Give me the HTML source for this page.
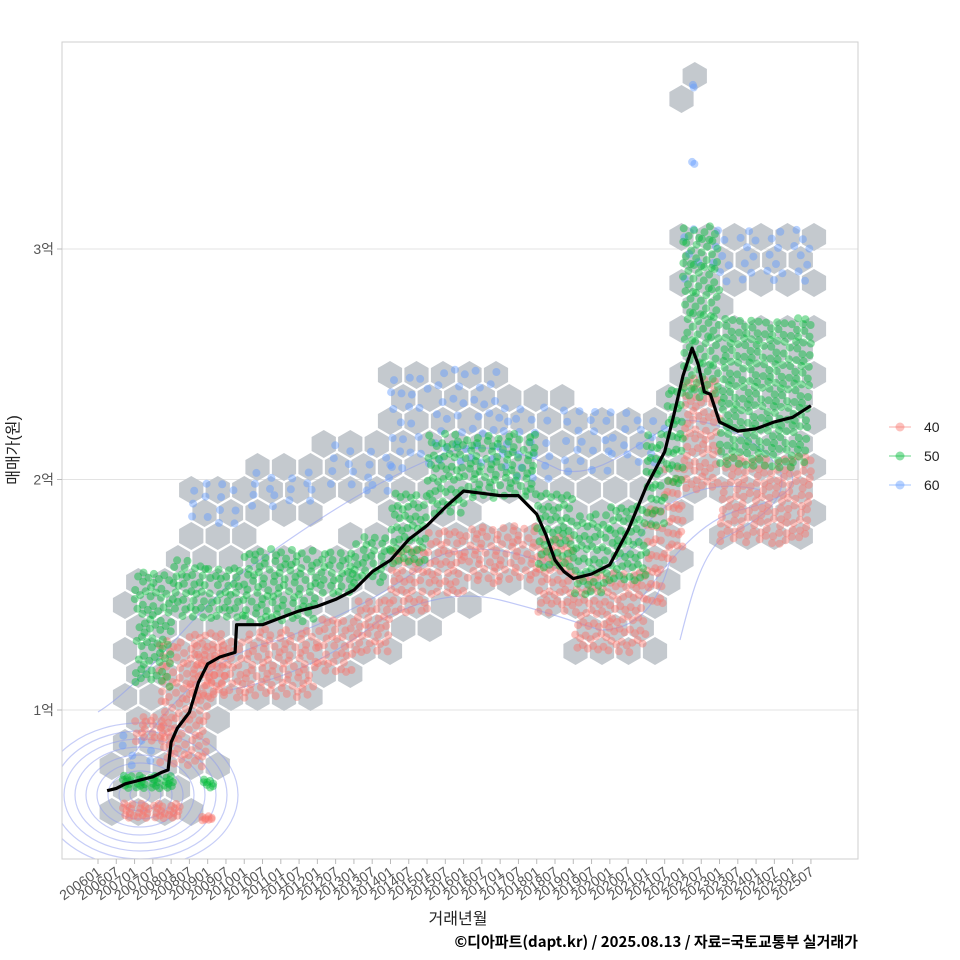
<!DOCTYPE html>
<html><head><meta charset="utf-8">
<style>
body{margin:0;background:#fff;}
svg{display:block;font-family:"Liberation Sans","Noto Sans CJK KR",sans-serif;}
</style></head>
<body>
<svg id="chart" width="960" height="960">
<defs><clipPath id="plotclip"><rect x="62" y="42" width="796" height="817"/></clipPath></defs>
<rect x="0" y="0" width="960" height="960" fill="#fff"/>
<g id="grid"></g>
<g id="hexes"></g>
<g id="contours" clip-path="url(#plotclip)"></g>
<g id="points"></g>
<g id="trend"></g>
<rect x="62" y="42" width="796" height="817" fill="none" stroke="#cfcfcf" stroke-width="1"/>
<g id="axes"></g>
<text x="14" y="450" transform="rotate(-90 14 450)" text-anchor="middle" dominant-baseline="central" font-size="16" fill="#222">매매가(원)</text>
<text x="458" y="924" text-anchor="middle" font-size="16" fill="#222">거래년월</text>
<text x="858" y="947" text-anchor="end" font-size="15" font-weight="bold" fill="#000" style="font-family:'Noto Sans CJK KR',sans-serif">©디아파트(dapt.kr) / 2025.08.13 / 자료=국토교통부 실거래가</text>
<g id="legend"></g>
</svg>
<script>
// ---- data ----
const yTicks = [1, 2, 3];
const yTickLabels = ["1억", "2억", "3억"];
const xTickLabels = [];
for (let y = 2006; y <= 2025; y++) { xTickLabels.push(y + "01"); xTickLabels.push(y + "07"); }
// trend line (moving average): months since 2006-01, value in 억
const trendMonths = [3,6,9,12,15,18,21,23,24,26,30,33,36,40,45,45.5,48,54,60,66,72,78,84,90,96,102,108,114,120,126,132,138,144,147,150,153,156,162,168,174,180,186,189,192,195,197,199,201,204,210,216,222,228,234];
const trendValues = [0.65,0.66,0.68,0.69,0.70,0.71,0.73,0.74,0.86,0.92,0.99,1.12,1.20,1.23,1.25,1.37,1.37,1.37,1.40,1.43,1.45,1.48,1.52,1.60,1.65,1.74,1.80,1.88,1.95,1.94,1.93,1.93,1.85,1.76,1.65,1.60,1.57,1.59,1.63,1.78,1.97,2.12,2.28,2.45,2.57,2.50,2.38,2.37,2.25,2.21,2.22,2.25,2.27,2.32];
// scatter bands: start month, end month, low, high
const redStart = [8,12,20,30,36,48,72,84,96,108,120,144,156,168,180,186,192,204,34];
const redEnd   = [28,24,36,42,48,72,84,96,108,120,144,156,168,180,186,192,204,234,38];
const redLo    = [0.53,0.85,0.75,1.05,1.05,1.05,1.15,1.25,1.40,1.50,1.55,1.42,1.25,1.25,1.45,1.65,1.95,1.72,0.52];
const redHi    = [0.60,0.97,1.30,1.35,1.30,1.35,1.40,1.50,1.70,1.80,1.80,1.75,1.60,1.60,1.90,2.05,2.45,2.10,0.54];
const greenStart = [8,12,24,36,48,72,84,96,108,120,144,156,168,180,186,192,204,34];
const greenEnd   = [26,24,36,48,72,84,96,108,120,144,156,168,180,186,192,204,234,38];
const greenLo    = [0.66,1.10,1.40,1.38,1.38,1.50,1.55,1.62,1.85,1.92,1.60,1.50,1.55,1.80,1.95,2.35,2.05,0.66];
const greenHi    = [0.72,1.60,1.65,1.62,1.70,1.70,1.75,1.95,2.20,2.20,1.95,1.85,1.90,2.20,2.40,3.10,2.70,0.70];
const blueStart = [8,30,48,72,96,108,132,150,168,192,198,195,195];
const blueEnd   = [20,48,72,96,108,132,150,168,186,198,234,196,196];
const blueLo    = [0.75,1.80,1.88,1.95,2.00,2.05,2.00,2.00,2.05,2.85,2.85,3.36,3.70];
const blueHi    = [0.90,2.00,2.05,2.15,2.45,2.50,2.35,2.30,2.30,3.10,3.10,3.38,3.72];

// ---- scales ----
const NS = "http://www.w3.org/2000/svg";
const x = m => 98 + m * 18.28 / 6;
const y = v => 710 - (v - 1) * 230.5;
function el(tag, attrs, parent) {
  const e = document.createElementNS(NS, tag);
  for (const k in attrs) e.setAttribute(k, attrs[k]);
  parent.appendChild(e); return e;
}
const grid = document.getElementById('grid');
yTicks.forEach((t, i) => {
  const l = el('line', {x1: 62, x2: 858, y1: y(t), y2: y(t), stroke: '#e3e3e3', 'stroke-width': 1}, grid);
  
  
});
const axes = document.getElementById('axes');
yTicks.forEach((t, i) => {
  el('line', {x1: 57, x2: 62, y1: y(t), y2: y(t), stroke: '#bbb'}, axes);
  const tx = el('text', {x: 54, y: y(t) + 5, 'text-anchor': 'end', 'font-size': 14, fill: '#555'}, axes);
  tx.textContent = yTickLabels[i];
  
  
});
xTickLabels.forEach((lab, i) => {
  const px = x(i * 6);
  el('line', {x1: px, x2: px, y1: 859, y2: 864, stroke: '#bbb'}, axes);
  const tx = el('text', {x: px + 4, y: 874, 'text-anchor': 'end', 'font-size': 14, fill: '#555', transform: `rotate(-35 ${px + 4} 874)`}, axes);
  tx.textContent = lab;
  
  
});

// ---- hexes ----
const bands = [
  [redStart, redEnd, redLo, redHi],
  [greenStart, greenEnd, greenLo, greenHi],
  [blueStart, blueEnd, blueLo, blueHi]
];
function covered(m, v) {
  for (const [s, e, lo, hi] of bands)
    for (let i = 0; i < s.length; i++)
      if (m >= s[i] && m <= e[i] && v >= lo[i] && v <= hi[i]) return true;
  return false;
}
const hexG = document.getElementById('hexes');
const hr = 14, hdx = 26.5, hdy = 23;
for (let row = 0; row < 40; row++) {
  const cy = 835 - row * hdy;
  for (let col = 0; col < 32; col++) {
    const cx = 72 + col * hdx + (row % 2 ? hdx / 2 : 0);
    const m = (cx - 98) * 6 / 18.28;
    const v = 1 + (710 - cy) / 230.5;
    let hit = false;
    for (let a = -1; a <= 1 && !hit; a++) for (let b = -1; b <= 1 && !hit; b++)
      if (covered(m + a * 3.5, v + b * 0.05)) hit = true;
    if (!hit) continue;
    let pts = [];
    for (let k = 0; k < 6; k++) {
      const ang = Math.PI / 2 + k * Math.PI / 3;
      pts.push((cx + hr * Math.cos(ang)).toFixed(1) + ',' + (cy + hr * Math.sin(ang)).toFixed(1));
    }
    const p = el('polygon', {points: pts.join(' '), fill: '#c4c9ce'}, hexG);
    
    
  }
}

// ---- contours ----
const cg = document.getElementById('contours');
for (let k = 0; k < 9; k++) {
  const e = el('ellipse', {cx: 140, cy: 795, rx: 10 + k * 11, ry: 8 + k * 8, fill: 'none', stroke: '#8e9cf0', 'stroke-opacity': 0.5, 'stroke-width': 1.2}, cg);
  
  
}
const contourPaths = [
  "M98,712 C150,680 200,600 260,560 C330,510 380,480 440,455 C480,440 520,450 560,470 C600,480 640,440 680,420 C720,420 760,440 780,470 C790,500 760,520 720,540 C700,560 690,600 680,640",
  "M130,760 C170,700 220,650 280,640 C330,620 380,600 430,560 C470,540 520,550 560,570 C600,580 630,560 650,520 C680,490 720,480 760,490",
  "M230,690 C280,680 330,660 380,620 C420,600 460,590 500,600 C540,610 570,620 600,630 C640,630 660,600 670,560",
  "M640,600 C670,560 700,520 740,510 C780,500 800,490 790,470"
];
contourPaths.forEach(d => {
  const p = el('path', {d: d, fill: 'none', stroke: '#8e9cf0', 'stroke-opacity': 0.55, 'stroke-width': 1.2}, cg);
  
  
});

// ---- points (deterministic R2 low-discrepancy placement) ----
const pg = document.getElementById('points');
const colors = ['#F8766D', '#00BA38', '#619CFF'];
const dens = [4, 4, 1.2];
const order = [2, 0, 1];
order.forEach(si => {
  const [s, e, lo, hi] = bands[si];
  let n = 0;
  for (let i = 0; i < s.length; i++) {
    const cnt = Math.max(2, Math.round((e[i] - s[i]) * dens[si] * Math.max(0.5, (hi[i] - lo[i]) * 3)));
    for (let j = 0; j < cnt; j++) {
      n++;
      const fm = (0.5 + n * 0.7548776662) % 1, fv = (0.5 + n * 0.5698402910) % 1;
      const m = s[i] + fm * (e[i] - s[i]);
      const v = lo[i] + fv * (hi[i] - lo[i]);
      const c = el('circle', {cx: x(m).toFixed(1), cy: y(v).toFixed(1), r: 4, fill: colors[si], 'fill-opacity': 0.45}, pg);
      
      
    }
  }
});

// ---- trend ----
const tg = document.getElementById('trend');
const d = trendMonths.map((m, i) => (i ? 'L' : 'M') + x(m).toFixed(1) + ',' + y(trendValues[i]).toFixed(1)).join(' ');
const tl = el('path', {d: d, fill: 'none', stroke: '#000', 'stroke-width': 3.2, 'stroke-linejoin': 'round'}, tg);



// ---- legend ----
const lg = document.getElementById('legend');
['40', '50', '60'].forEach((lab, i) => {
  const cy = 427 + i * 29;
  const g = el('g', {}, lg);
  
  
  el('line', {x1: 889, x2: 911, y1: cy, y2: cy, stroke: colors[i], 'stroke-opacity': 0.4, 'stroke-width': 1.5}, g);
  el('circle', {cx: 900, cy: cy, r: 4.5, fill: colors[i], 'fill-opacity': 0.45}, g);
  const t = el('text', {x: 924, y: cy + 5, 'font-size': 14, fill: '#222'}, g);
  t.textContent = lab;
});
</script>
</body></html>
